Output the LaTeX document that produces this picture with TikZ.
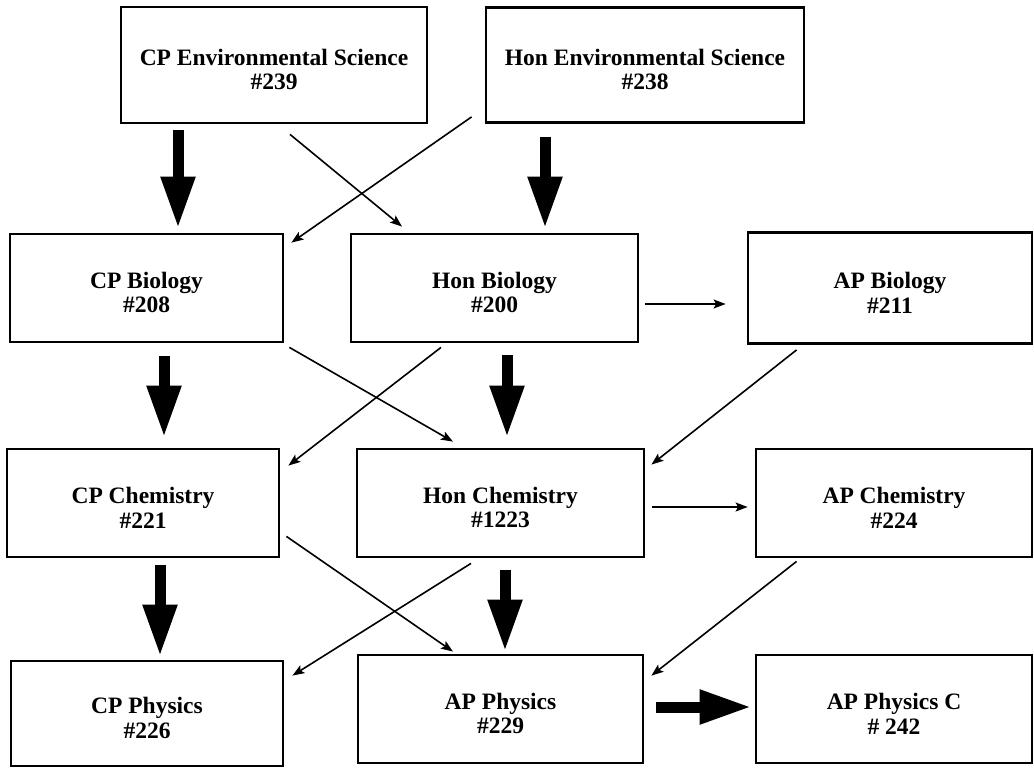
\documentclass[tikz,border=0pt]{standalone}
\usepackage{fontspec}
\setmainfont{Liberation Serif}
\usetikzlibrary{arrows.meta, positioning, calc}

\begin{document}
\begin{tikzpicture}[x=1pt, y=-1pt, on grid,
  course/.style={draw, line width=2.8pt, inner sep=0pt, align=center,
    font=\fontsize{23.5}{24.5}\selectfont\bfseries, minimum height=108pt,
    text height=50pt},
  link/.style={-{Stealth[length=12pt, width=9pt, inset=2.5pt]}, line width=1.6pt},
  bigarrow/.style={-{Triangle[length=52pt, width=32pt]}, line width=11pt}]
\useasboundingbox (0,0) rectangle (1034,768);

\node (cpenv) [course, minimum width=306pt, minimum height=116pt] at (274,65) {CP Environmental Science\\\#239};
\node (honenv) [course, minimum width=318pt, minimum height=115pt, right=371pt of cpenv] {Hon Environmental Science\\\#238};

\node (cpbio) [course, minimum width=273pt, below left=223pt and 127.5pt of cpenv] {CP Biology\\\#208};
\node (honbio) [course, minimum width=287pt, right=348pt of cpbio] {Hon Biology\\\#200};
\node (apbio) [course, minimum width=284pt, minimum height=111pt, right=395.5pt of honbio] {AP Biology\\\#211};

\node (cpchem) [course, minimum width=272pt, below left=215pt and 3.5pt of cpbio] {CP Chemistry\\\#221};
\node (honchem) [course, minimum width=287pt, right=357.5pt of cpchem] {Hon Chemistry\\\#1223};
\node (apchem) [course, minimum width=276pt, right=393.5pt of honchem] {AP Chemistry\\\#224};

\node (cpphys) [course, minimum width=272pt, minimum height=105pt, below right=210.5pt and 4pt of cpchem] {CP Physics\\\#226};
\node (apphys) [course, minimum width=285pt, below=206pt of honchem] {AP Physics\\\#229};
\node (apphysc) [course, minimum width=276pt, right=393.5pt of apphys] {AP Physics C\\\# 242};

% main track
\draw[bigarrow] ($(cpenv.south)+(-96,6)$) -- ($(cpbio.north)+(31.5,-4)$);
\draw[bigarrow] ($(honenv.south)+(-100,13)$) -- ($(honbio.north)+(50.5,-4)$);
\draw[bigarrow] ($(cpbio.south)+(17.5,13)$) -- ($(cpchem.north)+(21,-10)$);
\draw[bigarrow] ($(honbio.south)+(12.5,12)$) -- ($(honchem.north)+(6.5,-10)$);
\draw[bigarrow] ($(cpchem.south)+(17,7)$) -- ($(cpphys.north)+(13,-3)$);
\draw[bigarrow] ($(honchem.south)+(4.5,12)$) -- ($(apphys.north)+(4.5,-2)$);
\draw[bigarrow] ($(apphys.east)+(12,-2)$) -- ($(apphysc.west)+(-3,-2)$);

% other options
\draw[link] ($(cpenv.south)+(16,10)$) -- ($(honbio.north)+(-92.5,-6)$);
\draw[link] ($(honenv.south west)+(-13,-7)$) -- ($(cpbio.north east)+(7,10)$);
\draw[link] ($(honbio.east)+(6,16)$) -- ($(apbio.west)+(-21,16)$);
\draw[link] ($(cpbio.south east)+(5,4)$) -- ($(honchem.north)+(-47.5,-6)$);
\draw[link] ($(honbio.south)+(-53.5,4)$) -- ($(cpchem.north east)+(8,18)$);
\draw[link] ($(apbio.south west)+(50,5)$) -- ($(honchem.north east)+(6,17)$);
\draw[link] ($(honchem.east)+(7,4)$) -- ($(apchem.west)+(-7,4)$);
\draw[link] ($(cpchem.south east)+(6,-22)$) -- ($(apphys.north)+(-47.5,-2)$);
\draw[link] ($(honchem.south)+(-29.5,5)$) -- ($(cpphys.north east)+(8,16)$);
\draw[link] ($(apchem.south west)+(42,3)$) -- ($(apphys.north east)+(7,22)$);
\end{tikzpicture}
\end{document}
